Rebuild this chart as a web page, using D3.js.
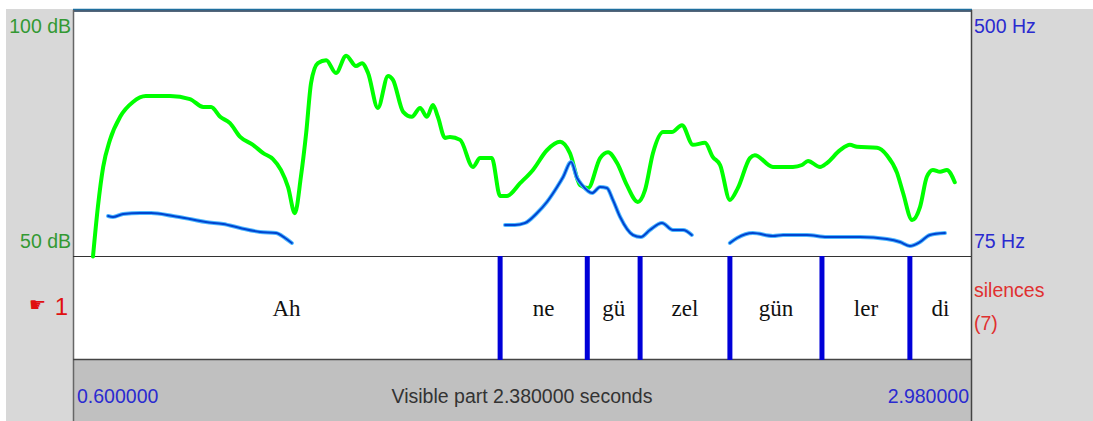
<!DOCTYPE html>
<html>
<head>
<meta charset="utf-8">
<script src="https://cdn.jsdelivr.net/npm/d3@7"></script>
<style>
  body { margin: 0; background: #fff; }
  svg { display: block; }
</style>
</head>
<body>
<svg id="chart" width="1093" height="421"></svg>
<script>
// intensity contour (s, dB)
const intensityTime = [0.653, 0.666, 0.680, 0.698, 0.725, 0.759, 0.793, 0.857, 0.910, 0.945, 0.966, 0.990,
  1.016, 1.043, 1.077, 1.104, 1.130, 1.151, 1.170, 1.188, 1.204, 1.218, 1.231, 1.249, 1.271, 1.297,
  1.324, 1.350, 1.366, 1.382, 1.408, 1.435, 1.448, 1.475, 1.498, 1.520, 1.538, 1.554, 1.567, 1.586,
  1.599, 1.626, 1.660, 1.679, 1.710, 1.732, 1.750, 1.785, 1.819, 1.856, 1.891, 1.917, 1.944, 1.965,
  1.997, 2.018, 2.042, 2.068, 2.097, 2.116, 2.137, 2.164, 2.187, 2.214, 2.243, 2.275, 2.296, 2.315,
  2.341, 2.362, 2.394, 2.407, 2.455, 2.508, 2.532, 2.548, 2.580, 2.598, 2.633, 2.659, 2.678, 2.731,
  2.757, 2.784, 2.800, 2.824, 2.845, 2.863, 2.879, 2.898, 2.916, 2.937]
const intensityDb = [49.9, 60.0, 68.1, 73.6, 78.3, 81.3, 82.5, 82.5, 81.9, 80.3, 80.3, 78.3,
  77.0, 74.2, 72.6, 70.9, 69.7, 67.5, 64.0, 58.7, 66.1, 75.0, 85.2, 89.2, 89.8, 87.2,
  90.7, 88.6, 89.2, 87.2, 80.1, 86.6, 85.8, 79.3, 78.3, 80.1, 78.3, 80.7, 78.3, 74.0,
  74.2, 73.6, 68.1, 69.9, 69.9, 62.2, 62.2, 64.8, 67.5, 71.5, 73.2, 70.9, 64.4, 63.8,
  69.9, 71.1, 68.9, 64.4, 61.0, 63.4, 70.9, 75.2, 75.2, 76.6, 72.6, 73.0, 70.1, 68.5,
  61.4, 63.8, 69.9, 70.5, 68.1, 68.1, 68.5, 69.3, 68.1, 68.9, 71.5, 72.6, 72.2, 72.0,
  70.5, 66.9, 62.8, 57.3, 60.0, 66.1, 67.5, 67.1, 67.5, 65.0]

// pitch contour (s, Hz), null = unvoiced gap
const pitchTime = [0.693, 0.706, 0.733, 0.778, 0.807, 0.865, 0.910, 0.952, 0.998, 1.043, 1.096, 1.138, 1.162, 1.180,
  1.200,
  1.745, 1.771, 1.798, 1.830, 1.856, 1.883, 1.899, 1.920, 1.936, 1.949, 1.976, 1.997, 2.015, 2.031,
  2.050, 2.084, 2.105, 2.129, 2.161, 2.190, 2.217, 2.240,
  2.300,
  2.341, 2.360, 2.402, 2.455, 2.482, 2.545, 2.598, 2.686, 2.757, 2.792, 2.818, 2.845, 2.871, 2.911]
const pitchHz = [144.1, 142.4, 147.6, 149.3, 149.3, 144.1, 138.9, 133.7, 130.3, 123.4, 116.5, 114.7, 106.1, 97.5,
  null,
  128.6, 128.6, 132.0, 149.3, 168.3, 194.2, 211.5, 237.4, 209.8, 197.7, 183.8, 194.2, 192.5, 171.7,
  142.4, 111.3, 107.8, 119.9, 132.0, 119.9, 119.9, 111.3,
  null,
  97.5, 106.1, 114.7, 109.6, 111.3, 111.3, 107.8, 107.8, 104.4, 99.2, 92.3, 99.2, 111.3, 114.7]

// text tier
const boundaryTimes = [1.732, 1.963, 2.103, 2.341, 2.585, 2.818]
const intervalLabels = ['Ah', 'ne', 'gü', 'zel', 'gün', 'ler', 'di']
const timeRange = [0.6, 2.98]
const dbRange = [50, 100]
const hzRange = [75, 500]

const svg = d3.select('#chart')
const plotLeft = 73, plotRight = 971, plotTop = 10, plotMid = 256, tierBottom = 359

let x = d3.scaleLinear().domain(timeRange).range([plotLeft, plotRight])
let yDb = d3.scaleLinear().domain(dbRange).range([plotMid, plotTop])
let yHz = d3.scaleLinear().domain(hzRange).range([plotMid, plotTop])

// window panels
svg.append('rect').attr('x', 6).attr('y', 9).attr('width', plotLeft - 6).attr('height', 412).attr('fill', '#d8d8d8')
svg.append('rect').attr('x', plotRight).attr('y', 9).attr('width', 1093 - plotRight).attr('height', 412).attr('fill', '#d8d8d8')
svg.append('rect').attr('x', plotLeft).attr('y', plotTop).attr('width', plotRight - plotLeft).attr('height', tierBottom - plotTop).attr('fill', '#fff')
svg.append('rect').attr('x', plotLeft).attr('y', tierBottom).attr('width', plotRight - plotLeft).attr('height', 421 - tierBottom).attr('fill', '#c0c0c0')

svg.append('line').attr('x1', plotLeft).attr('x2', plotRight + 1).attr('y1', plotTop - 0.5).attr('y2', plotTop - 0.5)
  .attr('stroke', '#1f6f9f').attr('stroke-width', 1.5)
svg.append('line').attr('x1', plotLeft).attr('x2', plotRight + 1).attr('y1', plotTop + 1).attr('y2', plotTop + 1)
  .attr('stroke', '#1a3550').attr('stroke-width', 1.5)
svg.append('line').attr('x1', plotLeft + 0.5).attr('x2', plotLeft + 0.5).attr('y1', plotTop).attr('y2', 421)
  .attr('stroke', '#666').attr('stroke-width', 1.5)
svg.append('line').attr('x1', plotRight + 0.5).attr('x2', plotRight + 0.5).attr('y1', plotTop).attr('y2', 421)
  .attr('stroke', '#444').attr('stroke-width', 1.5)
svg.append('line').attr('x1', plotLeft).attr('x2', plotRight).attr('y1', plotMid + 0.5).attr('y2', plotMid + 0.5)
  .attr('stroke', '#333').attr('stroke-width', 1.2)
svg.append('line').attr('x1', plotLeft).attr('x2', plotRight).attr('y1', tierBottom + 0.5).attr('y2', tierBottom + 0.5)
  .attr('stroke', '#444').attr('stroke-width', 1.5)

// intensity
let intensity = intensityTime.map((t, i) => ({ t: t, v: intensityDb[i] }))
let dbLine = d3.line().x(d => x(d.t)).y(d => yDb(d.v)).curve(d3.curveMonotoneX)
svg.append('path').datum(intensity).attr('d', dbLine)
  .attr('fill', 'none').attr('stroke', '#00ff00').attr('stroke-width', 4)
  .attr('stroke-linejoin', 'round').attr('stroke-linecap', 'round')

// pitch
let pitch = pitchTime.map((t, i) => ({ t: t, v: pitchHz[i] }))
let hzLine = d3.line().defined(d => d.v !== null).x(d => x(d.t)).y(d => yHz(d.v)).curve(d3.curveMonotoneX)
svg.append('path').datum(pitch).attr('d', hzLine)
  .attr('fill', 'none').attr('stroke', '#4db8ff').attr('stroke-width', 4).attr('stroke-linecap', 'round')
svg.append('path').datum(pitch).attr('d', hzLine)
  .attr('fill', 'none').attr('stroke', '#0044d0').attr('stroke-width', 2).attr('stroke-linecap', 'round')

// tier boundaries
svg.selectAll('line.boundary').data(boundaryTimes).enter().append('line')
  .attr('class', 'boundary')
  .attr('x1', d => x(d)).attr('x2', d => x(d))
  .attr('y1', plotMid).attr('y2', tierBottom + 1)
  .attr('stroke', '#0000d8').attr('stroke-width', 5)

let edges = [timeRange[0]].concat(boundaryTimes, [timeRange[1]])
svg.selectAll('text.interval').data(intervalLabels).enter().append('text')
  .attr('class', 'interval')
  .attr('x', (d, i) => (x(edges[i]) + x(edges[i + 1])) / 2)
  .attr('y', 316)
  .attr('text-anchor', 'middle')
  .attr('font-family', 'Liberation Serif, Times New Roman, serif')
  .attr('font-size', 23)
  .attr('fill', '#111')
  .text(d => d)

// axis labels
const sans = 'Liberation Sans, Arial, sans-serif'
function label (tx, ty, txt, color, anchor, size) {
  svg.append('text').attr('x', tx).attr('y', ty).attr('text-anchor', anchor || 'start')
    .attr('font-family', sans).attr('font-size', size || 19.5).attr('fill', color).text(txt)
}
label(plotLeft - 2, yDb(100) + 23, dbRange[1] + ' dB', '#339933', 'end')
label(plotLeft - 2, yDb(50) - 8, dbRange[0] + ' dB', '#339933', 'end')
label(plotRight + 3, yHz(500) + 23, hzRange[1] + ' Hz', '#2a2ad0')
label(plotRight + 3, yHz(75) - 8, hzRange[0] + ' Hz', '#2a2ad0')
label(plotRight + 3, 297, 'silences', '#e03030')
label(plotRight + 3, 330, '(7)', '#e03030')
label(plotLeft - 5, 315, '1', '#e01010', 'end', 24)
svg.append('text').attr('x', 29).attr('y', 311).attr('font-family', 'DejaVu Sans')
  .attr('font-size', 19).attr('fill', '#e01010').text('☛')

label(x(timeRange[0]) + 4, 403, timeRange[0].toFixed(6), '#2a2ad0')
label(x(timeRange[1]) - 2, 403, timeRange[1].toFixed(6), '#2a2ad0', 'end')
label((plotLeft + plotRight) / 2, 403, 'Visible part ' + (timeRange[1] - timeRange[0]).toFixed(6) + ' seconds', '#333', 'middle')
</script>
</body>
</html>
